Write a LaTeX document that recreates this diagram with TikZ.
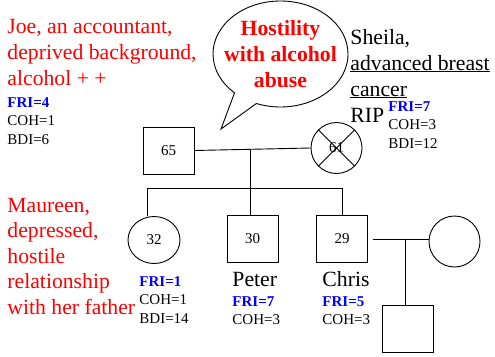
\documentclass[tikz,border=0pt]{standalone}
\usepackage{fontspec}
\setmainfont{Liberation Serif}
\usetikzlibrary{positioning,shapes.geometric,shapes.callouts}
\definecolor{notered}{RGB}{255,0,0}
\definecolor{scoreblue}{RGB}{0,0,255}
\newcommand{\bigtxt}{\fontsize{21.7}{26}\selectfont}
\newcommand{\smalltxt}{\fontsize{15}{18.5}\selectfont}
\newcommand{\fri}[1]{\textcolor{scoreblue}{\textbf{FRI=#1}}}

\begin{document}
\begin{tikzpicture}[x=1pt,y=-1pt,line width=0.9pt,
    male/.style={draw,rectangle,minimum width=51pt,minimum height=47pt,
                 inner sep=0pt,font=\smalltxt},
    female/.style={draw,circle,minimum size=51pt,inner sep=0pt,font=\smalltxt},
    note/.style={text=notered,font=\bigtxt,anchor=north west,align=left,inner sep=0pt},
    label/.style={font=\bigtxt,anchor=north west,align=left,inner sep=0pt},
    score/.style={font=\smalltxt,anchor=north west,align=left,inner sep=0pt}]
  \useasboundingbox (0,0) rectangle (495,356);

  % parents
  \node[male] (joe) at (168.5,150.5) {65};
  \node[female] (sheila) at (336.5,148) {61};
  \draw (sheila.north west) -- (sheila.south east)
        (sheila.north east) -- (sheila.south west);

  % children
  \node[female,ellipse,minimum width=52pt,minimum height=47pt] (maureen) at (154,240) {32};
  \node[male] (peter) at (252.5,239) {30};
  \node[male] (chris) at (342,239) {29};
  \node[female] (chrisw) at (454.5,241.5) {};
  \node[male] (chrisk) at (407.5,328.5) {};

  % family lines
  \coordinate (mar) at (250,150);
  \coordinate (sib) at (250,188);
  \coordinate (sibl) at (147,188);
  \draw (joe.east) -- (sheila.west);
  \draw (mar) -- (sib);
  \draw (sibl) -- (sib -| chris.north);
  \draw (sibl) -- (sibl |- maureen.north);
  \draw (sib) -- (sib |- peter.north);
  \draw (sib -| chris.north) -- (chris.north);
  \coordinate (ck) at (405,239);
  \draw[shorten <=5pt] (chris.east) -- (chris.east -| chrisw.west);
  \draw (ck) -- (ck |- chrisk.north);

  % speech bubble
  \node[ellipse callout,draw,minimum width=135pt,minimum height=106pt,
        callout absolute pointer={(221,129)},callout pointer arc=22] (bubble) at (280.5,54) {};
  \node[text=notered,font=\bigtxt\bfseries,align=center,inner sep=0pt]
    (hostile) at (bubble.center) {Hostility\\with alcohol\\abuse};

  % notes
  \node[note] (joenote) at (7,18.5) {Joe, an accountant,\\deprived background,\\alcohol + +};
  \node[score] (joescore) at (7,97) {\fri{4}\\COH=1\\BDI=6};
  \node[label] (sheilanote) at (350,28.5)
    {Sheila,\\\underline{advanced breast}\\\underline{cancer}\\RIP};
  \node[score] (sheilascore) at (388,101) {\fri{7}\\COH=3\\BDI=12};
  \node[note,font=\fontsize{21.7}{25.5}\selectfont] (maureennote) at (7,197.5)
    {Maureen,\\depressed,\\hostile\\relationship\\with her father};
  \node[score] (maureenscore) at (139,276) {\fri{1}\\COH=1\\BDI=14};
  \node[label] (petername) at (232,271.5) {Peter};
  \node[score] (peterscore) at (232,296) {\fri{7}\\COH=3};
  \node[label] (chrisname) at (322,271.2) {Chris};
  \node[score] (chrisscore) at (322,296) {\fri{5}\\COH=3};
\end{tikzpicture}
\end{document}
